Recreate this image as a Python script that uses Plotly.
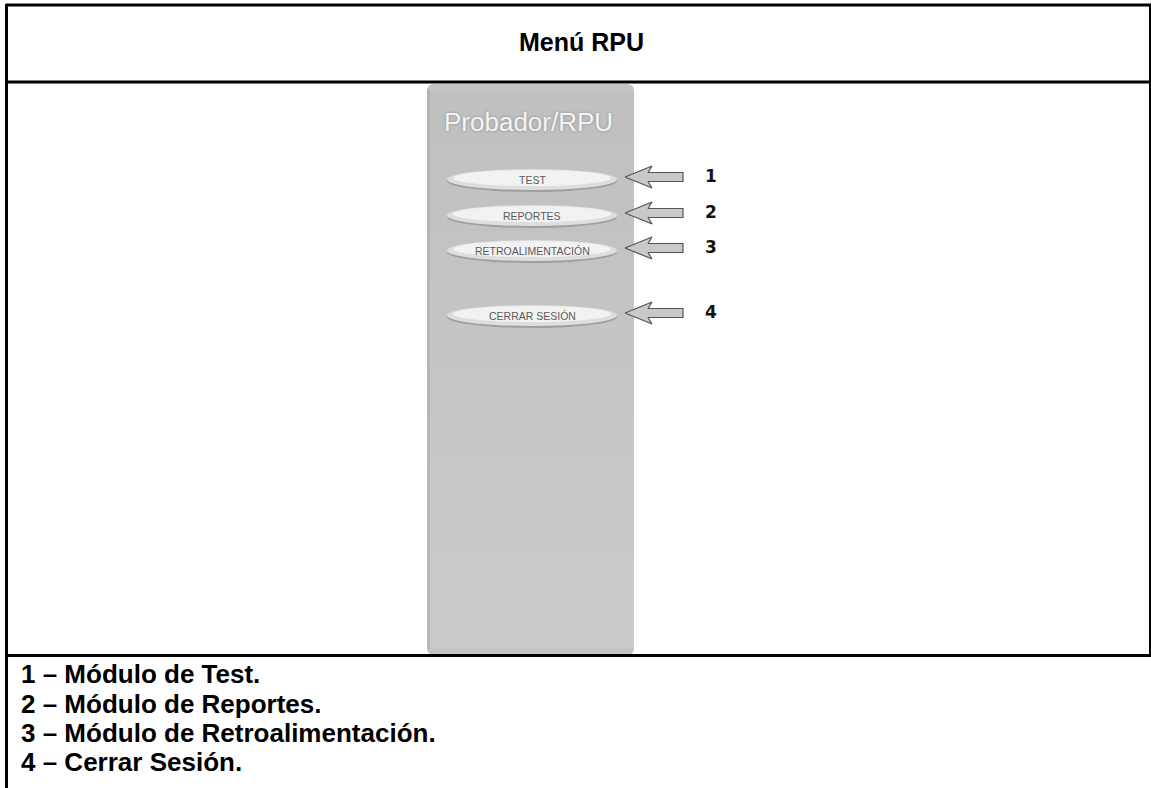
import plotly.graph_objects as go

# ---- data ----
title_text = "Menú RPU"
panel_title = "Probador/RPU"
buttons = ["TEST", "REPORTES", "RETROALIMENTACIÓN", "CERRAR SESIÓN"]
numbers = ["1", "2", "3", "4"]
descriptions = [
    "1 – Módulo de Test.",
    "2 – Módulo de Reportes.",
    "3 – Módulo de Retroalimentación.",
    "4 – Cerrar Sesión.",
]

# ---- layout constants ----
W, H = 1151, 788
button_y = [180, 216, 251, 316]
desc_y = [674, 704, 733, 762]
btn_x0, btn_x1 = 447, 617
panel_x0, panel_x1, panel_y0, panel_y1 = 427, 634, 84, 655

fig = go.Figure()
shapes = []
annotations = []

def rounded_rect(x0, y0, x1, y1, r):
    return (f"M {x0+r},{y0} L {x1-r},{y0} Q {x1},{y0} {x1},{y0+r} "
            f"L {x1},{y1-r} Q {x1},{y1} {x1-r},{y1} L {x0+r},{y1} "
            f"Q {x0},{y1} {x0},{y1-r} L {x0},{y0+r} Q {x0},{y0} {x0+r},{y0} Z")

shapes.append(dict(type="path", path=rounded_rect(panel_x0, panel_y0, panel_x1, panel_y1, 7),
                   fillcolor="#c4c4c4", line=dict(width=0), layer="below"))
nb = 12
for i in range(nb):
    y0 = panel_y0 + 8 + (panel_y1 - panel_y0 - 16) * i / nb
    y1 = panel_y0 + 8 + (panel_y1 - panel_y0 - 16) * (i + 1) / nb + 0.5
    g = int(0xc0 + (0xcb - 0xc0) * i / (nb - 1))
    shapes.append(dict(type="rect", x0=panel_x0, x1=panel_x1, y0=y0, y1=y1,
                       fillcolor=f"rgb({g},{g},{g})", line=dict(width=0), layer="below"))
shapes.append(dict(type="rect", x0=panel_x0, x1=panel_x0 + 3, y0=panel_y0 + 6, y1=panel_y1 - 6,
                   fillcolor="rgba(150,150,150,0.3)", line=dict(width=0), layer="below"))

# buttons
for lab, yc in zip(buttons, button_y):
    shapes.append(dict(type="circle", x0=btn_x0, x1=btn_x1, y0=yc - 10, y1=yc + 12,
                       fillcolor="#a0a0a0", line=dict(width=0)))
    shapes.append(dict(type="circle", x0=btn_x0, x1=btn_x1, y0=yc - 11, y1=yc + 10,
                       fillcolor="#dedede", line=dict(width=0)))
    shapes.append(dict(type="circle", x0=btn_x0 + 6, x1=btn_x1 - 6, y0=yc - 10, y1=yc + 6,
                       fillcolor="#f2f2f2", line=dict(width=0)))
    annotations.append(dict(x=(btn_x0 + btn_x1) / 2, y=yc, text=lab, showarrow=False,
                            font=dict(family="Liberation Sans, Arial", size=10.5, color="#5a5a5a")))

# arrows
for num, yc in zip(numbers, button_y):
    yc2 = yc - 3
    xs = [625, 652, 648, 683, 683, 648, 652, 625]
    ys = [yc2, yc2 - 11, yc2 - 4.5, yc2 - 4.5, yc2 + 4.5, yc2 + 4.5, yc2 + 11, yc2]
    fig.add_trace(go.Scatter(x=xs, y=ys, mode="lines", fill="toself", fillcolor="#c9c9c9",
                             line=dict(color="#555555", width=1.2), hoverinfo="skip",
                             showlegend=False))
    annotations.append(dict(x=711, y=yc2 - 1, text=f"<b>{num}</b>", showarrow=False,
                            font=dict(family="DejaVu Sans", size=17, color="#111111")))

# panel title
annotations.append(dict(x=528, y=122, text=panel_title, showarrow=False,
                        font=dict(family="Liberation Sans, Arial", size=26, color="#f4f4f4",
                                  shadow="0px 0px 3px #8a8a8a")))

# main title
annotations.append(dict(x=581, y=42, text=f"<b>{title_text}</b>", showarrow=False,
                        font=dict(family="Liberation Sans, Arial", size=25, color="#000000")))

# descriptions
for t, yc in zip(descriptions, desc_y):
    annotations.append(dict(x=19, y=yc, text=f"<b>{t}</b>", showarrow=False, xanchor="left",
                            font=dict(family="Liberation Sans, Arial", size=26, color="#000000")))

# table borders
lw = 3
border = "#000000"
shapes += [
    dict(type="line", x0=6, x1=1152, y0=5, y1=5, line=dict(color=border, width=lw)),
    dict(type="line", x0=6, x1=1152, y0=82, y1=82, line=dict(color=border, width=lw)),
    dict(type="line", x0=6, x1=1152, y0=655.5, y1=655.5, line=dict(color=border, width=lw)),
    dict(type="line", x0=6.5, x1=6.5, y0=4, y1=790, line=dict(color=border, width=lw)),
    dict(type="line", x0=1150.5, x1=1150.5, y0=4, y1=657, line=dict(color=border, width=lw)),
]

fig.update_layout(
    width=W, height=H, margin=dict(l=0, r=0, t=0, b=0),
    paper_bgcolor="white", plot_bgcolor="white",
    xaxis=dict(range=[0, W], visible=False, fixedrange=True),
    yaxis=dict(range=[H, 0], visible=False, fixedrange=True),
    shapes=shapes, annotations=annotations, showlegend=False,
)
fig.write_html("out.html", config={"displayModeBar": False},
               post_script="document.body.style.margin='0';document.body.style.overflow='hidden';")
